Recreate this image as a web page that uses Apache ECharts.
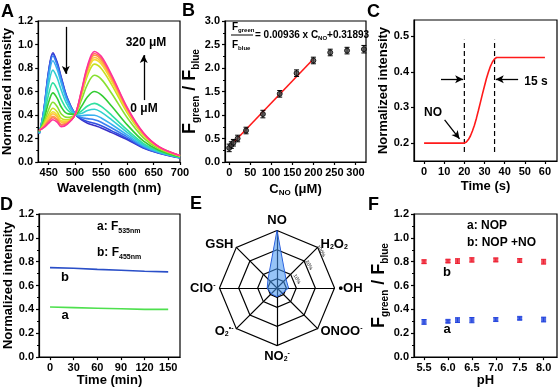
<!DOCTYPE html>
<html><head><meta charset="utf-8">
<script src="https://cdn.jsdelivr.net/npm/echarts@6/dist/echarts.min.js"></script>
<style>html,body{margin:0;padding:0;background:#fff}#c{width:558px;height:388px}</style>
</head><body><div id="c"></div>
<script>
// ---------- Panel A: emission spectra (0 -> 320 uM NO) ----------
const wavelengths = [432,440,450,458,466,474,485,500,512,524,537,550,570,600,630,660,700];
const spectrum01 = [0.24,0.42,0.78,0.93,0.85,0.72,0.55,0.41,0.36,0.33,0.31,0.29,0.25,0.19,0.12,0.075,0.035];
const spectrum02 = [0.24,0.417,0.771,0.919,0.84,0.712,0.545,0.41,0.367,0.345,0.329,0.308,0.265,0.198,0.124,0.077,0.036];
const spectrum03 = [0.242,0.414,0.758,0.902,0.825,0.699,0.539,0.41,0.379,0.369,0.36,0.339,0.289,0.212,0.13,0.079,0.037];
const spectrum04 = [0.244,0.404,0.726,0.862,0.789,0.67,0.522,0.409,0.394,0.399,0.398,0.375,0.319,0.228,0.138,0.083,0.038];
const spectrum05 = [0.248,0.386,0.663,0.782,0.717,0.611,0.49,0.408,0.413,0.438,0.449,0.424,0.358,0.249,0.149,0.087,0.039];
const spectrum06 = [0.254,0.362,0.578,0.673,0.62,0.531,0.447,0.406,0.432,0.477,0.499,0.473,0.397,0.271,0.159,0.092,0.041];
const spectrum07 = [0.258,0.342,0.51,0.588,0.544,0.468,0.412,0.405,0.47,0.555,0.60,0.571,0.475,0.314,0.18,0.10,0.044];
const spectrum08 = [0.262,0.324,0.447,0.508,0.473,0.409,0.38,0.403,0.523,0.663,0.738,0.705,0.583,0.374,0.208,0.112,0.049];
const spectrum09 = [0.265,0.312,0.406,0.457,0.427,0.371,0.359,0.402,0.559,0.737,0.833,0.796,0.657,0.414,0.228,0.121,0.052];
const spectrum10 = [0.266,0.306,0.384,0.428,0.401,0.35,0.348,0.401,0.574,0.766,0.871,0.833,0.686,0.43,0.236,0.124,0.053];
const spectrum11 = [0.267,0.302,0.37,0.411,0.386,0.338,0.341,0.401,0.581,0.781,0.89,0.851,0.701,0.438,0.24,0.126,0.053];
const spectrum12 = [0.269,0.296,0.352,0.388,0.366,0.321,0.332,0.40,0.588,0.796,0.909,0.87,0.716,0.447,0.244,0.127,0.054];
const spectrum13 = [0.269,0.294,0.344,0.377,0.355,0.313,0.327,0.40,0.594,0.808,0.924,0.885,0.728,0.453,0.247,0.129,0.055];
const spectrum14 = [0.27,0.29,0.33,0.36,0.34,0.30,0.32,0.40,0.60,0.82,0.94,0.90,0.74,0.46,0.25,0.13,0.055];
const spectra = [spectrum01,spectrum02,spectrum03,spectrum04,spectrum05,spectrum06,spectrum07,spectrum08,spectrum09,spectrum10,spectrum11,spectrum12,spectrum13,spectrum14];
const spectrumColors = ['#3a2fc8','#3050e0','#3a80f0','#38b0f0','#30d0d0','#30e0a0','#33cc33','#88e030','#c8e020','#f0e030','#ffc040','#ff9a40','#ff7060','#ff3399'];
const aTicksX = [450,500,550,600,650,700];

// ---------- Panel B: calibration ----------
const bConc  = [0,5,10,20,40,80,120,160,200,240,280,320];
const bRatio = [0.30,0.36,0.41,0.50,0.67,1.02,1.45,1.89,2.16,2.33,2.37,2.40];
const bErr   = [0.08,0.07,0.07,0.07,0.07,0.08,0.07,0.07,0.07,0.07,0.07,0.08];
const bFitConc  = [0,200];
const bFitRatio = [0.319,2.191];
const bTicksX = [0,50,100,150,200,250,300];

// ---------- Panel C: response time ----------
const cTime = [0,20,21,22,23,24,25,26,27,28,29,30,31,32,33,34,35,36,60];
const cIntensity = [0.2,0.2,0.203,0.21,0.22,0.234,0.25,0.27,0.292,0.315,0.338,0.36,0.382,0.40,0.416,0.428,0.436,0.44,0.44];
const cDashTimes = [20,35];
const cDashRange = [0.175,0.49];
const cTicksX = [0,10,20,30,40,50,60];
const cTicksY = [0.2,0.3,0.4,0.5];

// ---------- Panel D: photostability ----------
const dTime = [0,30,60,90,120,150];
const dF535 = [0.42,0.415,0.41,0.405,0.40,0.40];
const dF455 = [0.75,0.745,0.736,0.728,0.72,0.715];
const dTicksX = [0,30,60,90,120,150];

// ---------- Panel E: selectivity radar (counter-clockwise from top) ----------
const eSpecies = ['NO','GSH','ClO{sp|-}','O{sb|2}{sp|•-}','NO{sb|2}{sp|-}','ONOO{sp|-}','•OH','H{sb|2}O{sb|2}'];
const eResponse = [1.0,0.22,0.17,0.14,0.15,0.13,0.2,0.22];

// ---------- Panel F: pH ----------
const fPH = [5.5,6.0,6.2,6.5,7.0,7.5,8.0];
const fNOP   = [0.295,0.30,0.31,0.31,0.315,0.325,0.315];
const fNOPNO = [0.80,0.805,0.805,0.815,0.815,0.81,0.80];
const fErrNOP = [0.02,0.012,0.02,0.022,0.015,0.012,0.02];
const fErrNOPNO = [0.015,0.012,0.02,0.018,0.015,0.015,0.02];
const fTicksX = [5.5,6.0,6.5,7.0,7.5,8.0];

const FF = '"Liberation Sans", Arial, Helvetica, sans-serif';
const FFN = '"Liberation Sans Narrow","Liberation Sans", Arial, sans-serif';

function axis(gridIndex, min, max, opts) {
  const o = opts || {};
  const a = {
    type:'value', gridIndex, min, max,
    axisLine:{show:true, onZero:false, lineStyle:{color:'#000', width:1.2}},
    axisTick:{show:true, inside:false, length:3, lineStyle:{color:'#000', width:1.2}},
    axisLabel:{show:true, color:'#000', fontWeight:'bold', fontSize:11, fontFamily:FFN, margin:5,
      formatter: o.fmt || (v => String(v))},
    splitLine:{show:false},
    name:o.name || '', nameLocation:'middle', nameGap:o.nameGap || 20,
    nameTextStyle:Object.assign({color:'#000', fontWeight:'bold', fontSize:13, fontFamily:FF}, o.nameStyle || {}),
  };
  if (o.interval != null) a.interval = o.interval;
  if (o.ticks) { a.axisTick.customValues = o.ticks; a.axisLabel.customValues = o.ticks; }
  if (o.minor) a.minorTick = {show:true, splitNumber:2, length:2, lineStyle:{color:'#000', width:1}};
  if (o.rotateName) a.nameRotate = 90;
  return a;
}
const f1 = v => v.toFixed(1);

function errSeries(xi, xs, ys, es, color, capW) {
  return {
    type:'custom', xAxisIndex:xi, yAxisIndex:xi, silent:true, z:3,
    data: xs.map((x,i)=>[x, ys[i]-es[i], ys[i]+es[i]]),
    renderItem(params, api){
      const lo = api.coord([api.value(0), api.value(1)]);
      const hi = api.coord([api.value(0), api.value(2)]);
      const s = {stroke: color, lineWidth: 1};
      return {type:'group', children:[
        {type:'line', shape:{x1:lo[0],y1:lo[1],x2:hi[0],y2:hi[1]}, style:s},
        {type:'line', shape:{x1:lo[0]-capW,y1:lo[1],x2:lo[0]+capW,y2:lo[1]}, style:s},
        {type:'line', shape:{x1:hi[0]-capW,y1:hi[1],x2:hi[0]+capW,y2:hi[1]}, style:s}
      ]};
    }
  };
}

const gridStyle = {show:true, borderColor:'#000', borderWidth:1.2, backgroundColor:'transparent', containLabel:false};
const grids = [
  Object.assign({left:38, top:21, width:142, height:141}, gridStyle),      // A
  Object.assign({left:225, top:21, width:141, height:141}, gridStyle),     // B
  Object.assign({left:414, top:20, width:143, height:141}, gridStyle),     // C
  Object.assign({left:39, top:214, width:141, height:144}, gridStyle),     // D
  Object.assign({left:414, top:214, width:143, height:145}, gridStyle)     // F
];

const subRich = {
  F:{fontSize:18, fontWeight:'bold', fontFamily:FF, color:'#000', lineHeight:21},
  s:{fontSize:10, fontWeight:'bold', fontFamily:FF, color:'#000', verticalAlign:'bottom', lineHeight:10}
};

const xAxes = [
  axis(0, 430, 700, {ticks:aTicksX, name:'Wavelength (nm)', nameGap:20}),
  axis(1, -10, 325, {ticks:bTicksX, name:'{C|C}{s|NO}{C| (μM)}', nameGap:19,
     nameStyle:{rich:{C:{fontSize:13, fontWeight:'bold', fontFamily:FF, color:'#000', lineHeight:16}, s:{fontSize:8, fontWeight:'bold', fontFamily:FF, color:'#000', verticalAlign:'bottom', lineHeight:8}}}}),
  axis(2, -5, 66, {ticks:cTicksX, name:'Time (s)', nameGap:19}),
  axis(3, -14, 165, {ticks:dTicksX, name:'Time (min)', nameGap:16}),
  axis(4, 5.29, 8.28, {ticks:fTicksX, fmt:f1, name:'pH', nameGap:15})
];
const yAxes = [
  axis(0, 0, 1.2, {interval:0.2, minor:true, fmt:f1, name:'Normalized intensity', nameGap:22, rotateName:true}),
  axis(1, 0, 3, {interval:0.5, minor:true, fmt:f1, name:'{F|F}{s|green}{F| / F}{s|blue}', nameGap:21, rotateName:true, nameStyle:{rich:subRich}}),
  axis(2, 0.15, 0.545, {ticks:cTicksY, fmt:f1, name:'Normalized intensity', nameGap:24, rotateName:true}),
  axis(3, 0, 1.2, {interval:0.2, minor:true, fmt:f1, name:'Normalized intensity', nameGap:23, rotateName:true}),
  axis(4, 0, 1.2, {interval:0.2, minor:true, fmt:f1, name:'{F|F}{s|green}{F| / F}{s|blue}', nameGap:23, rotateName:true, nameStyle:{rich:subRich}})
];
xAxes.forEach(a => { a.nameRotate = 0; });

const arrowLine = {color:'#000', width:1.3, type:'solid'};
function arrow(p1, p2) { return [{coord:p1, symbol:'none'}, {coord:p2, symbol:'arrow', symbolSize:[6,8]}]; }

const series = [];
// A spectra
spectra.forEach((s, i) => {
  series.push({type:'line', xAxisIndex:0, yAxisIndex:0, symbol:'none', smooth:0.35,
    data: wavelengths.map((w,j)=>[w, s[j]]), lineStyle:{color:spectrumColors[i], width:1.6}, z:2});
});
series.push({type:'line', xAxisIndex:0, yAxisIndex:0, data:[], symbol:'none',
  markLine:{silent:true, animation:false, label:{show:false}, lineStyle:arrowLine,
    data:[arrow([482.6,1.15],[482.6,0.75]), arrow([631,0.527],[631,0.91])]}});

// B
series.push({type:'line', xAxisIndex:1, yAxisIndex:1, symbol:'none', data: bFitConc.map((c,i)=>[c,bFitRatio[i]]), lineStyle:{color:'#ff1a1a', width:1.6}, z:2});
series.push(errSeries(1, bConc, bRatio, bErr, '#000', 2.5));
series.push({type:'scatter', xAxisIndex:1, yAxisIndex:1, symbol:'circle', symbolSize:5,
  data: bConc.map((c,i)=>[c,bRatio[i]]), itemStyle:{color:'#444', borderColor:'#000', borderWidth:1}, z:4});

// C
series.push({type:'line', xAxisIndex:2, yAxisIndex:2, symbol:'none', smooth:false,
  data: cTime.map((t,i)=>[t,cIntensity[i]]), lineStyle:{color:'#ff1a1a', width:1.6}, z:3,
  markLine:{silent:true, animation:false, label:{show:false}, lineStyle:arrowLine,
    data:[arrow([8.4,0.379],[19.4,0.379]), arrow([46.7,0.379],[35.6,0.379]), arrow([10.2,0.265],[17.6,0.212])]}});
cDashTimes.forEach(t => {
  series.push({type:'line', xAxisIndex:2, yAxisIndex:2, symbol:'none', data: cDashRange.map(v=>[t,v]),
    lineStyle:{color:'#000', width:1.2, type:[5,3]}, z:2});
});

// D
series.push({type:'line', xAxisIndex:3, yAxisIndex:3, symbol:'none', data: dTime.map((t,i)=>[t,dF455[i]]), lineStyle:{color:'#2a4fc8', width:1.6}});
series.push({type:'line', xAxisIndex:3, yAxisIndex:3, symbol:'none', data: dTime.map((t,i)=>[t,dF535[i]]), lineStyle:{color:'#4ee04e', width:1.6}});

// F
series.push(errSeries(4, fPH, fNOPNO, fErrNOPNO, '#ee2233', 2.5));
series.push(errSeries(4, fPH, fNOP, fErrNOP, '#2244dd', 2.5));
series.push({type:'scatter', xAxisIndex:4, yAxisIndex:4, symbol:'rect', symbolSize:[5,5], data: fPH.map((p,i)=>[p,fNOPNO[i]]), itemStyle:{color:'#ee2233'}, z:4});
series.push({type:'scatter', xAxisIndex:4, yAxisIndex:4, symbol:'rect', symbolSize:[5,5], data: fPH.map((p,i)=>[p,fNOP[i]]), itemStyle:{color:'#2244dd'}, z:4});

// E radar
const radarCenter = [277, 288];
const radarRadii = [57.5, 38.3, 19.3, 9.3];
const radars = radarRadii.map((r, k) => ({
  center: radarCenter, radius: r, startAngle: 90, shape:'polygon', splitNumber:1,
  indicator: eSpecies.map(n => ({name:n, min:0, max:1})),
  splitLine:{lineStyle:{color:'#000', width:1.2}},
  splitArea:{show:false},
  axisLine:{show:k===0, lineStyle:{color:'#000', width:1.2}},
  axisTick:{show:false}, axisLabel:{show:false},
  axisName:{show:k===0, color:'#000', fontWeight:'bold', fontSize:13, fontFamily:FF,
    rich:{sb:{fontSize:7, fontWeight:'bold', fontFamily:FF, color:'#000', verticalAlign:'bottom', lineHeight:8},
          sp:{fontSize:7, fontWeight:'bold', fontFamily:FF, color:'#000', verticalAlign:'top', lineHeight:8}}},
  axisNameGap: 4
}));
series.push({type:'radar', radarIndex:0, symbol:'none', data:[{value:eResponse}],
  lineStyle:{color:'#1f4fd8', width:1}, areaStyle:{color:'rgba(70,150,240,0.8)'}, z:3});

const T = (x, y, text, size, extra) => Object.assign({type:'text', x, y, silent:true,
  style:Object.assign({text, fill:'#000', fontSize:size, fontWeight:'bold', fontFamily:FF, textAlign:'left', textVerticalAlign:'middle'}, (extra||{}))});
const richSub = (big, small) => ({b:{fontSize:big, fontWeight:'bold', fontFamily:FF, fill:'#000', lineHeight:big+3},
  s:{fontSize:small, fontWeight:'bold', fontFamily:FF, fill:'#000', verticalAlign:'bottom', lineHeight:small}});

const graphic = [
  T(1, 12, 'A', 18), T(182, 11, 'B', 18), T(367, 12, 'C', 18),
  T(0, 205, 'D', 18), T(190, 204, 'E', 18), T(368, 205, 'F', 18),
  // A
  T(146, 43, '320 μM', 12, {textAlign:'center'}),
  T(144, 109, '0 μM', 12, {textAlign:'center'}),
  // B equation
  T(232, 27, '{b|F}{s|green}', 10, {rich:richSub(10,6)}),
  T(232, 45, '{b|F}{s|blue}', 10, {rich:richSub(10,6)}),
  {type:'line', silent:true, shape:{x1:231, y1:35, x2:253, y2:35}, style:{stroke:'#000', lineWidth:1}},
  T(255, 35, '{b|= 0.00936 x C}{s|NO}{b|+0.31893}', 10, {rich:richSub(10,6)}),
  // C
  T(433, 113, 'NO', 12, {textAlign:'center'}),
  T(536, 82, '15 s', 12, {textAlign:'center'}),
  // D
  T(97, 227, '{b|a: F}{s|535nm}', 12, {rich:richSub(12,7)}),
  T(97, 253, '{b|b: F}{s|455nm}', 12, {rich:richSub(12,7)}),
  T(65, 277, 'b', 13, {textAlign:'center'}),
  T(65, 315, 'a', 13, {textAlign:'center'}),
  // E percentage labels
  T(321, 251, '100%', 5, {textAlign:'center', fontWeight:'normal'}),
  T(309, 265, '20%', 5, {textAlign:'center', fontWeight:'normal'}),
  T(297, 279, '10%', 5, {textAlign:'center', fontWeight:'normal'}),
  // F
  T(467, 226, 'a: NOP', 12),
  T(467, 243, 'b: NOP +NO', 12),
  T(447, 272, 'b', 13, {textAlign:'center'}),
  T(447, 329, 'a', 13, {textAlign:'center'})
];
[18,19,20].forEach(i => { graphic[i].rotation = -Math.PI/3; });

const chart = echarts.init(document.getElementById('c'));
chart.setOption({
  animation:false, backgroundColor:'#fff',
  grid: grids, xAxis: xAxes, yAxis: yAxes, radar: radars, series, graphic
});
</script></body></html>
